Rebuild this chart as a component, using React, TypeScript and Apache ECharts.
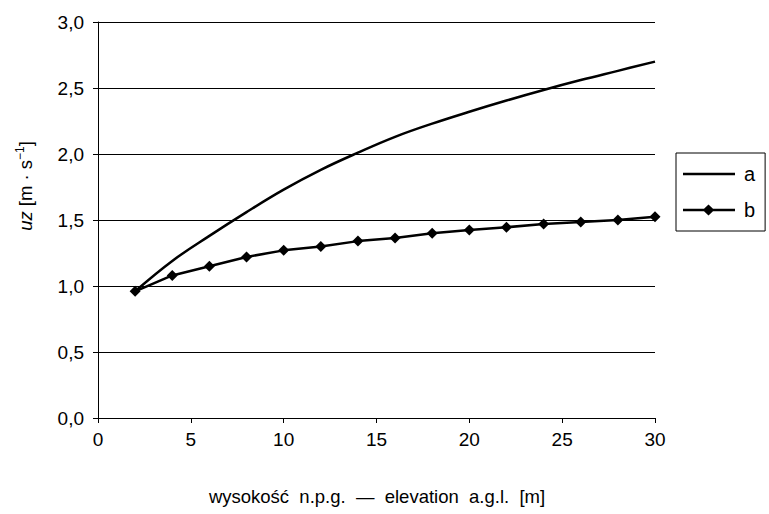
import React, { useEffect, useRef } from "react";
import * as echarts from "echarts";

const xA = [2, 4, 6, 8, 10, 12, 14, 16, 18, 20, 22, 24, 26, 28, 30];
const yA = [0.96, 1.19, 1.38, 1.56, 1.73, 1.88, 2.01, 2.13, 2.23, 2.32, 2.405, 2.485, 2.56, 2.63, 2.7];
const xB = [2, 4, 6, 8, 10, 12, 14, 16, 18, 20, 22, 24, 26, 28, 30];
const yB = [0.96, 1.08, 1.15, 1.22, 1.27, 1.3, 1.34, 1.364, 1.4, 1.424, 1.445, 1.47, 1.485, 1.5, 1.525];
const seriesNames = ["a", "b"];
const xTitle = "wysokość  n.p.g.  —  elevation  a.g.l.  [m]";

const FONT = "'Liberation Sans', Arial, sans-serif";

export default function App() {
  const ref = useRef<HTMLDivElement>(null);
  useEffect(() => {
    if (!ref.current) return;
    const chart = echarts.init(ref.current, null, { renderer: "svg" });
    chart.setOption({
      animation: false,
      backgroundColor: "#ffffff",
      textStyle: { fontFamily: FONT, color: "#000" },
      grid: { left: 98, right: 114, top: 22, bottom: 96, containLabel: false },
      xAxis: {
        type: "value",
        min: 0,
        max: 30,
        interval: 5,
        axisLine: { show: true, onZero: false, lineStyle: { color: "#000", width: 1 } },
        axisTick: { show: true, inside: false, length: 5, lineStyle: { color: "#000" } },
        axisLabel: { fontSize: 19, color: "#000", fontFamily: FONT, margin: 12 },
        splitLine: { show: false },
      },
      yAxis: {
        type: "value",
        min: 0,
        max: 3,
        interval: 0.5,
        axisLine: { show: true, lineStyle: { color: "#000", width: 1 } },
        axisTick: { show: true, inside: false, length: 5, lineStyle: { color: "#000" } },
        axisLabel: {
          fontSize: 19,
          color: "#000",
          fontFamily: FONT,
          margin: 14,
          formatter: (v: number) => v.toFixed(1).replace(".", ","),
        },
        splitLine: { show: true, lineStyle: { color: "#000", width: 1 } },
      },
      legend: {
        orient: "vertical",
        left: 676,
        top: 153,
        data: [
          { name: seriesNames[0], icon: "path://M0,0 H52 V2.5 H0 Z" },
          {
            name: seriesNames[1],
            icon: "path://M0,4.25 H21 L25.5,0 L30,4.25 H52 V6.75 H30 L25.5,11 L21,6.75 H0 Z",
          },
        ],
        itemWidth: 52,
        itemHeight: 14,
        itemGap: 16,
        padding: [11, 10, 11, 7],
        borderColor: "#000",
        borderWidth: 1,
        itemStyle: { color: "#000" },
        textStyle: { fontSize: 20, color: "#000", fontFamily: FONT, padding: [0, 0, 0, 4] },
      },
      graphic: [
        {
          type: "text",
          x: 25,
          y: 186,
          rotation: Math.PI / 2,
          style: {
            text: "{i|uz} [m · s{s|−1}]",
            fontSize: 18.5,
            fontFamily: FONT,
            fill: "#000",
            align: "center",
            verticalAlign: "middle",
            rich: {
              i: { fontStyle: "italic", fontSize: 18.5, fontFamily: FONT, lineHeight: 22 },
              s: { fontSize: 12, fontFamily: FONT, verticalAlign: "top", lineHeight: 22 },
            },
          },
        },
        {
          type: "text",
          x: 377,
          y: 496,
          style: {
            text: xTitle,
            fontSize: 18.5,
            fontFamily: FONT,
            fill: "#000",
            align: "center",
            verticalAlign: "middle",
          },
        },
      ],
      series: [
        {
          name: seriesNames[0],
          type: "line",
          smooth: 0.4,
          symbol: "none",
          data: xA.map((x, i) => [x, yA[i]]),
          lineStyle: { color: "#000", width: 2.5 },
          itemStyle: { color: "#000" },
        },
        {
          name: seriesNames[1],
          type: "line",
          symbol: "diamond",
          symbolSize: 11,
          data: xB.map((x, i) => [x, yB[i]]),
          lineStyle: { color: "#000", width: 2.5 },
          itemStyle: { color: "#000" },
        },
      ],
    });
    return () => chart.dispose();
  }, []);
  return <div ref={ref} style={{ width: 769, height: 514, position: "absolute", left: 0, top: 0 }} />;
}
